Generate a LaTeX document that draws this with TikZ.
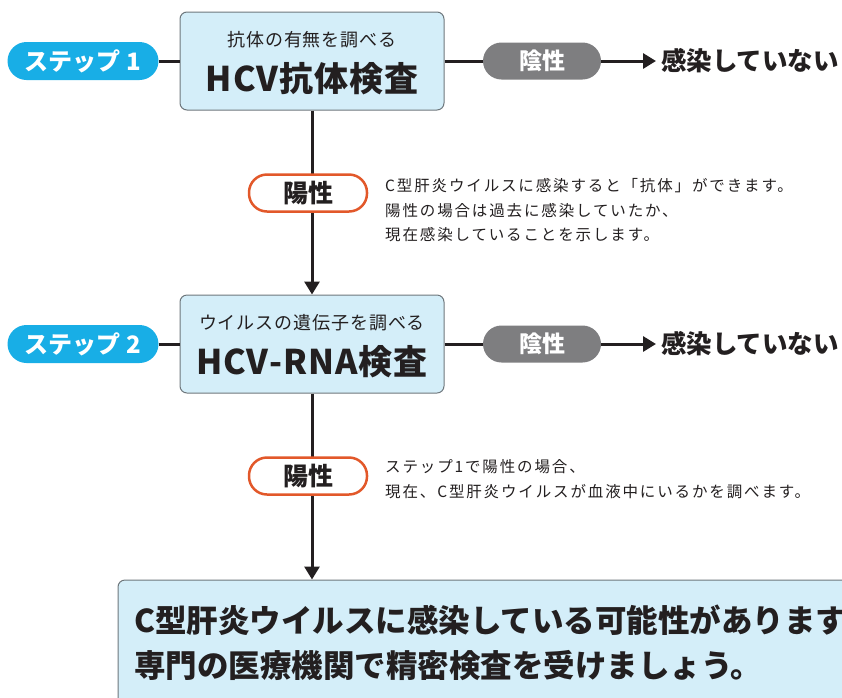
\documentclass[tikz,border=0pt]{standalone}
\usepackage{fontspec}
\setmainfont{Noto Sans CJK JP}
\usetikzlibrary{arrows.meta}
\definecolor{stepblue}{HTML}{18AEE6}
\definecolor{lightblue}{HTML}{D4EEF9}
\definecolor{boxgray}{HTML}{6E777C}
\definecolor{neggray}{HTML}{7E7E80}
\definecolor{posorange}{HTML}{E2582A}
\definecolor{ink}{HTML}{231F20}
\newcommand{\fs}[1]{\fontsize{#1}{#1}\selectfont}
\begin{document}
\begin{tikzpicture}[x=1pt,y=-1pt,
  stepbox/.style={fill=stepblue, rounded corners=19pt, minimum width=151pt, minimum height=38pt, inner sep=0pt, text=white, font=\bfseries\fs{24}},
  testbox/.style={draw=boxgray, line width=1pt, fill=lightblue, rounded corners=7pt, minimum width=264pt, minimum height=98pt, inner sep=0pt},
  negpill/.style={fill=neggray, rounded corners=18.5pt, minimum width=118pt, minimum height=37pt, inner sep=0pt, text=white, font=\bfseries\fs{23}},
  pospill/.style={draw=posorange, line width=2.5pt, fill=white, rounded corners=18pt, minimum width=118pt, minimum height=37pt, inner sep=0pt, text=ink, font=\bfseries\fs{25}},
  subtitle/.style={inner sep=0pt, text=ink, font=\fs{18}\addfontfeatures{LetterSpace=5}},
  maintitle/.style={inner sep=0pt, text=ink, font=\bfseries\fs{34}\addfontfeatures{LetterSpace=3}},
  result/.style={inner sep=0pt, anchor=west, text=ink, font=\bfseries\fs{25.5}},
  note/.style={inner sep=0pt, anchor=west, text=ink, font=\fs{15.5}\addfontfeatures{LetterSpace=12}},
  finaltext/.style={inner sep=0pt, anchor=west, text=ink, font=\bfseries\fs{31.5}},
  link/.style={line width=3pt, draw=ink},
  flow/.style={link, -{Triangle[width=15pt,length=13pt]}}
]
\useasboundingbox (0,0) rectangle (842,697);
\clip (0,0) rectangle (842,697);

% final box (clipped by the page)
\node[testbox, minimum width=760pt, minimum height=150pt] (final) at (498,655) {};
\node[finaltext] (f1) at (134,620) {C型肝炎ウイルスに感染している可能性があります。};
\node[finaltext] (f2) at (134,665) {専門の医療機関で精密検査を受けましょう。};

% step 1
\node[stepbox] (s1) at (83,61) {ステップ 1};
\node[testbox] (b1) at (312,61) {};
\node[subtitle] (b1t) at (312,40) {抗体の有無を調べる};
\node[maintitle] (b1m) at (312,79) {HCV抗体検査};
\node[negpill] (n1) at (542,61) {陰性};
\node[result] (r1) at (661,61) {感染していない};

% step 2
\node[stepbox] (s2) at (83,344) {ステップ 2};
\node[testbox] (b2) at (312,344) {};
\node[subtitle] (b2t) at (312,323) {ウイルスの遺伝子を調べる};
\node[maintitle] (b2m) at (312,362) {HCV-RNA検査};
\node[negpill] (n2) at (542,344) {陰性};
\node[result] (r2) at (661,344) {感染していない};

% connectors
\draw[link] (s1.east) -- (b1.west);
\draw[link] (b1.east) -- (n1.west);
\draw[flow] (n1.east) -- ([xshift=-5pt]r1.west);
\draw[link] (s2.east) -- (b2.west);
\draw[link] (b2.east) -- (n2.west);
\draw[flow] (n2.east) -- ([xshift=-5pt]r2.west);
\draw[flow] (b1.south) -- (b2.north);
\draw[flow] (b2.south) -- (b2.south |- final.north);

% positive pills and notes
\node[pospill] (p1) at (308,193) {陽性};
\node[note] (t1a) at (385,186) {C型肝炎ウイルスに感染すると「抗体」ができます。};
\node[note] (t1b) at (385,211) {陽性の場合は過去に感染していたか、};
\node[note] (t1c) at (385,235) {現在感染していることを示します。};

\node[pospill] (p2) at (308,476) {陽性};
\node[note] (t2a) at (385,467) {ステップ1で陽性の場合、};
\node[note] (t2b) at (385,492) {現在、C型肝炎ウイルスが血液中にいるかを調べます。};
\end{tikzpicture}
\end{document}
